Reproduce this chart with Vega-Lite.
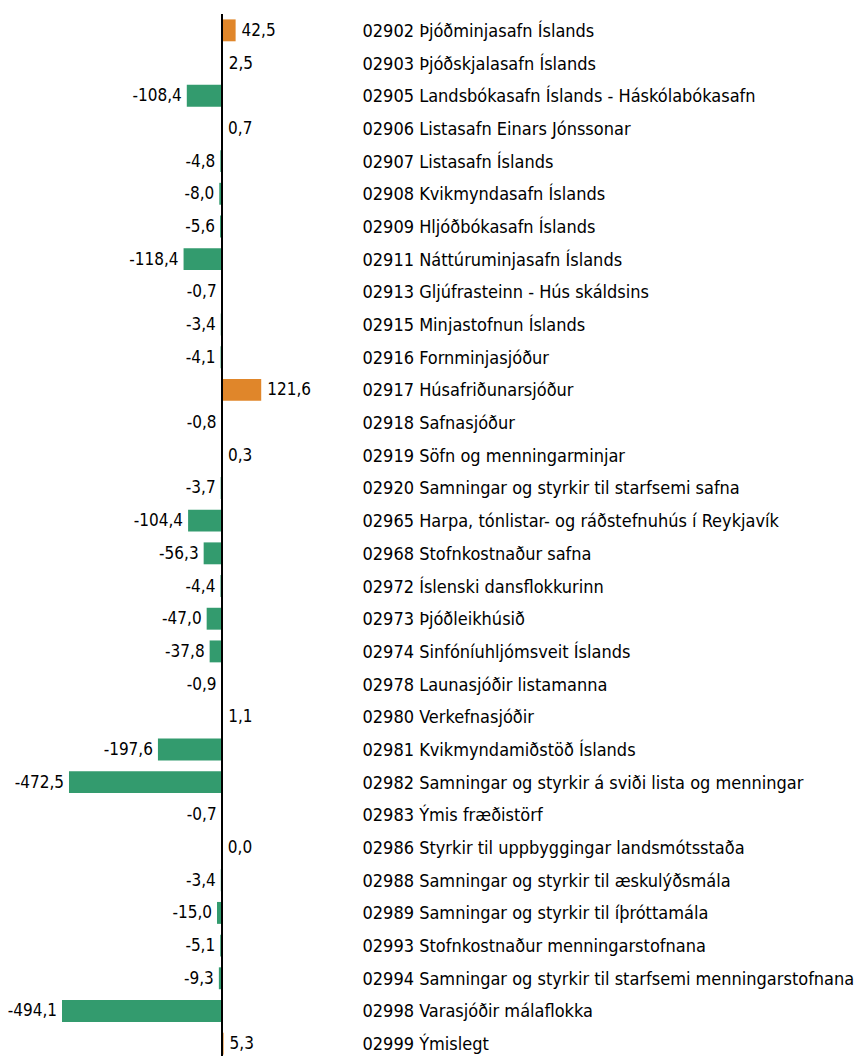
{
  "$schema": "https://vega.github.io/schema/vega-lite/v6.json",
  "width": 299,
  "height": 1046,
  "autosize": {"type": "none"},
  "padding": {"left": 62, "top": 14, "right": 506, "bottom": 0},
  "background": "white",
  "config": {
    "view": {"stroke": null},
    "locale": {"number": {"decimal": ",", "thousands": ".", "grouping": [3], "currency": ["", " kr."], "minus": "-"}},
    "font": "DejaVu Sans Condensed"
  },
  "data": {"values": [
    {"label": "02902 Þjóðminjasafn Íslands", "value": 42.5},
    {"label": "02903 Þjóðskjalasafn Íslands", "value": 2.5},
    {"label": "02905 Landsbókasafn Íslands - Háskólabókasafn", "value": -108.4},
    {"label": "02906 Listasafn Einars Jónssonar", "value": 0.7},
    {"label": "02907 Listasafn Íslands", "value": -4.8},
    {"label": "02908 Kvikmyndasafn Íslands", "value": -8.0},
    {"label": "02909 Hljóðbókasafn Íslands", "value": -5.6},
    {"label": "02911 Náttúruminjasafn Íslands", "value": -118.4},
    {"label": "02913 Gljúfrasteinn - Hús skáldsins", "value": -0.7},
    {"label": "02915 Minjastofnun Íslands", "value": -3.4},
    {"label": "02916 Fornminjasjóður", "value": -4.1},
    {"label": "02917 Húsafriðunarsjóður", "value": 121.6},
    {"label": "02918 Safnasjóður", "value": -0.8},
    {"label": "02919 Söfn og menningarminjar", "value": 0.3},
    {"label": "02920 Samningar og styrkir til starfsemi safna", "value": -3.7},
    {"label": "02965 Harpa, tónlistar- og ráðstefnuhús í Reykjavík", "value": -104.4},
    {"label": "02968 Stofnkostnaður safna", "value": -56.3},
    {"label": "02972 Íslenski dansflokkurinn", "value": -4.4},
    {"label": "02973 Þjóðleikhúsið", "value": -47.0},
    {"label": "02974 Sinfóníuhljómsveit Íslands", "value": -37.8},
    {"label": "02978 Launasjóðir listamanna", "value": -0.9},
    {"label": "02980 Verkefnasjóðir", "value": 1.1},
    {"label": "02981 Kvikmyndamiðstöð Íslands", "value": -197.6},
    {"label": "02982 Samningar og styrkir á sviði lista og menningar", "value": -472.5},
    {"label": "02983 Ýmis fræðistörf", "value": -0.7},
    {"label": "02986 Styrkir til uppbyggingar landsmótsstaða", "value": 0.0},
    {"label": "02988 Samningar og styrkir til æskulýðsmála", "value": -3.4},
    {"label": "02989 Samningar og styrkir til íþróttamála", "value": -15.0},
    {"label": "02993 Stofnkostnaður menningarstofnana", "value": -5.1},
    {"label": "02994 Samningar og styrkir til starfsemi menningarstofnana", "value": -9.3},
    {"label": "02998 Varasjóðir málaflokka", "value": -494.1},
    {"label": "02999 Ýmislegt", "value": 5.3}
  ]},
  "encoding": {
    "y": {
      "field": "label", "type": "nominal", "sort": null,
      "scale": {"paddingInner": 0.33, "paddingOuter": 0.165},
      "axis": {"orient": "right", "title": null, "domain": false, "ticks": false, "labelPadding": 1, "labelOffset": 1.5, "labelLimit": 0, "labelFontSize": 18, "labelColor": "#000000", "labelFont": "DejaVu Sans Condensed"}
    },
    "x": {
      "field": "value", "type": "quantitative",
      "scale": {"domain": [-494.1, 430], "nice": false, "zero": true},
      "axis": null
    }
  },
  "layer": [
    {
      "mark": {"type": "bar"},
      "encoding": {
        "color": {"condition": {"test": "datum.value > 0", "value": "#E0862A"}, "value": "#339B6E"}
      }
    },
    {
      "transform": [{"filter": "datum.value < 0"}],
      "mark": {"type": "text", "align": "right", "baseline": "middle", "dx": -5, "dy": 0.5, "fontSize": 17, "color": "#000000"},
      "encoding": {"text": {"field": "value", "type": "quantitative", "format": ".1f"}}
    },
    {
      "transform": [{"filter": "datum.value >= 0"}],
      "mark": {"type": "text", "align": "left", "baseline": "middle", "dx": 6, "dy": 0.5, "fontSize": 17, "color": "#000000"},
      "encoding": {"text": {"field": "value", "type": "quantitative", "format": ".1f"}}
    },
    {
      "mark": {"type": "rule", "color": "#000000", "strokeWidth": 1.2},
      "encoding": {"x": {"datum": 0}, "y": null}
    }
  ]
}
